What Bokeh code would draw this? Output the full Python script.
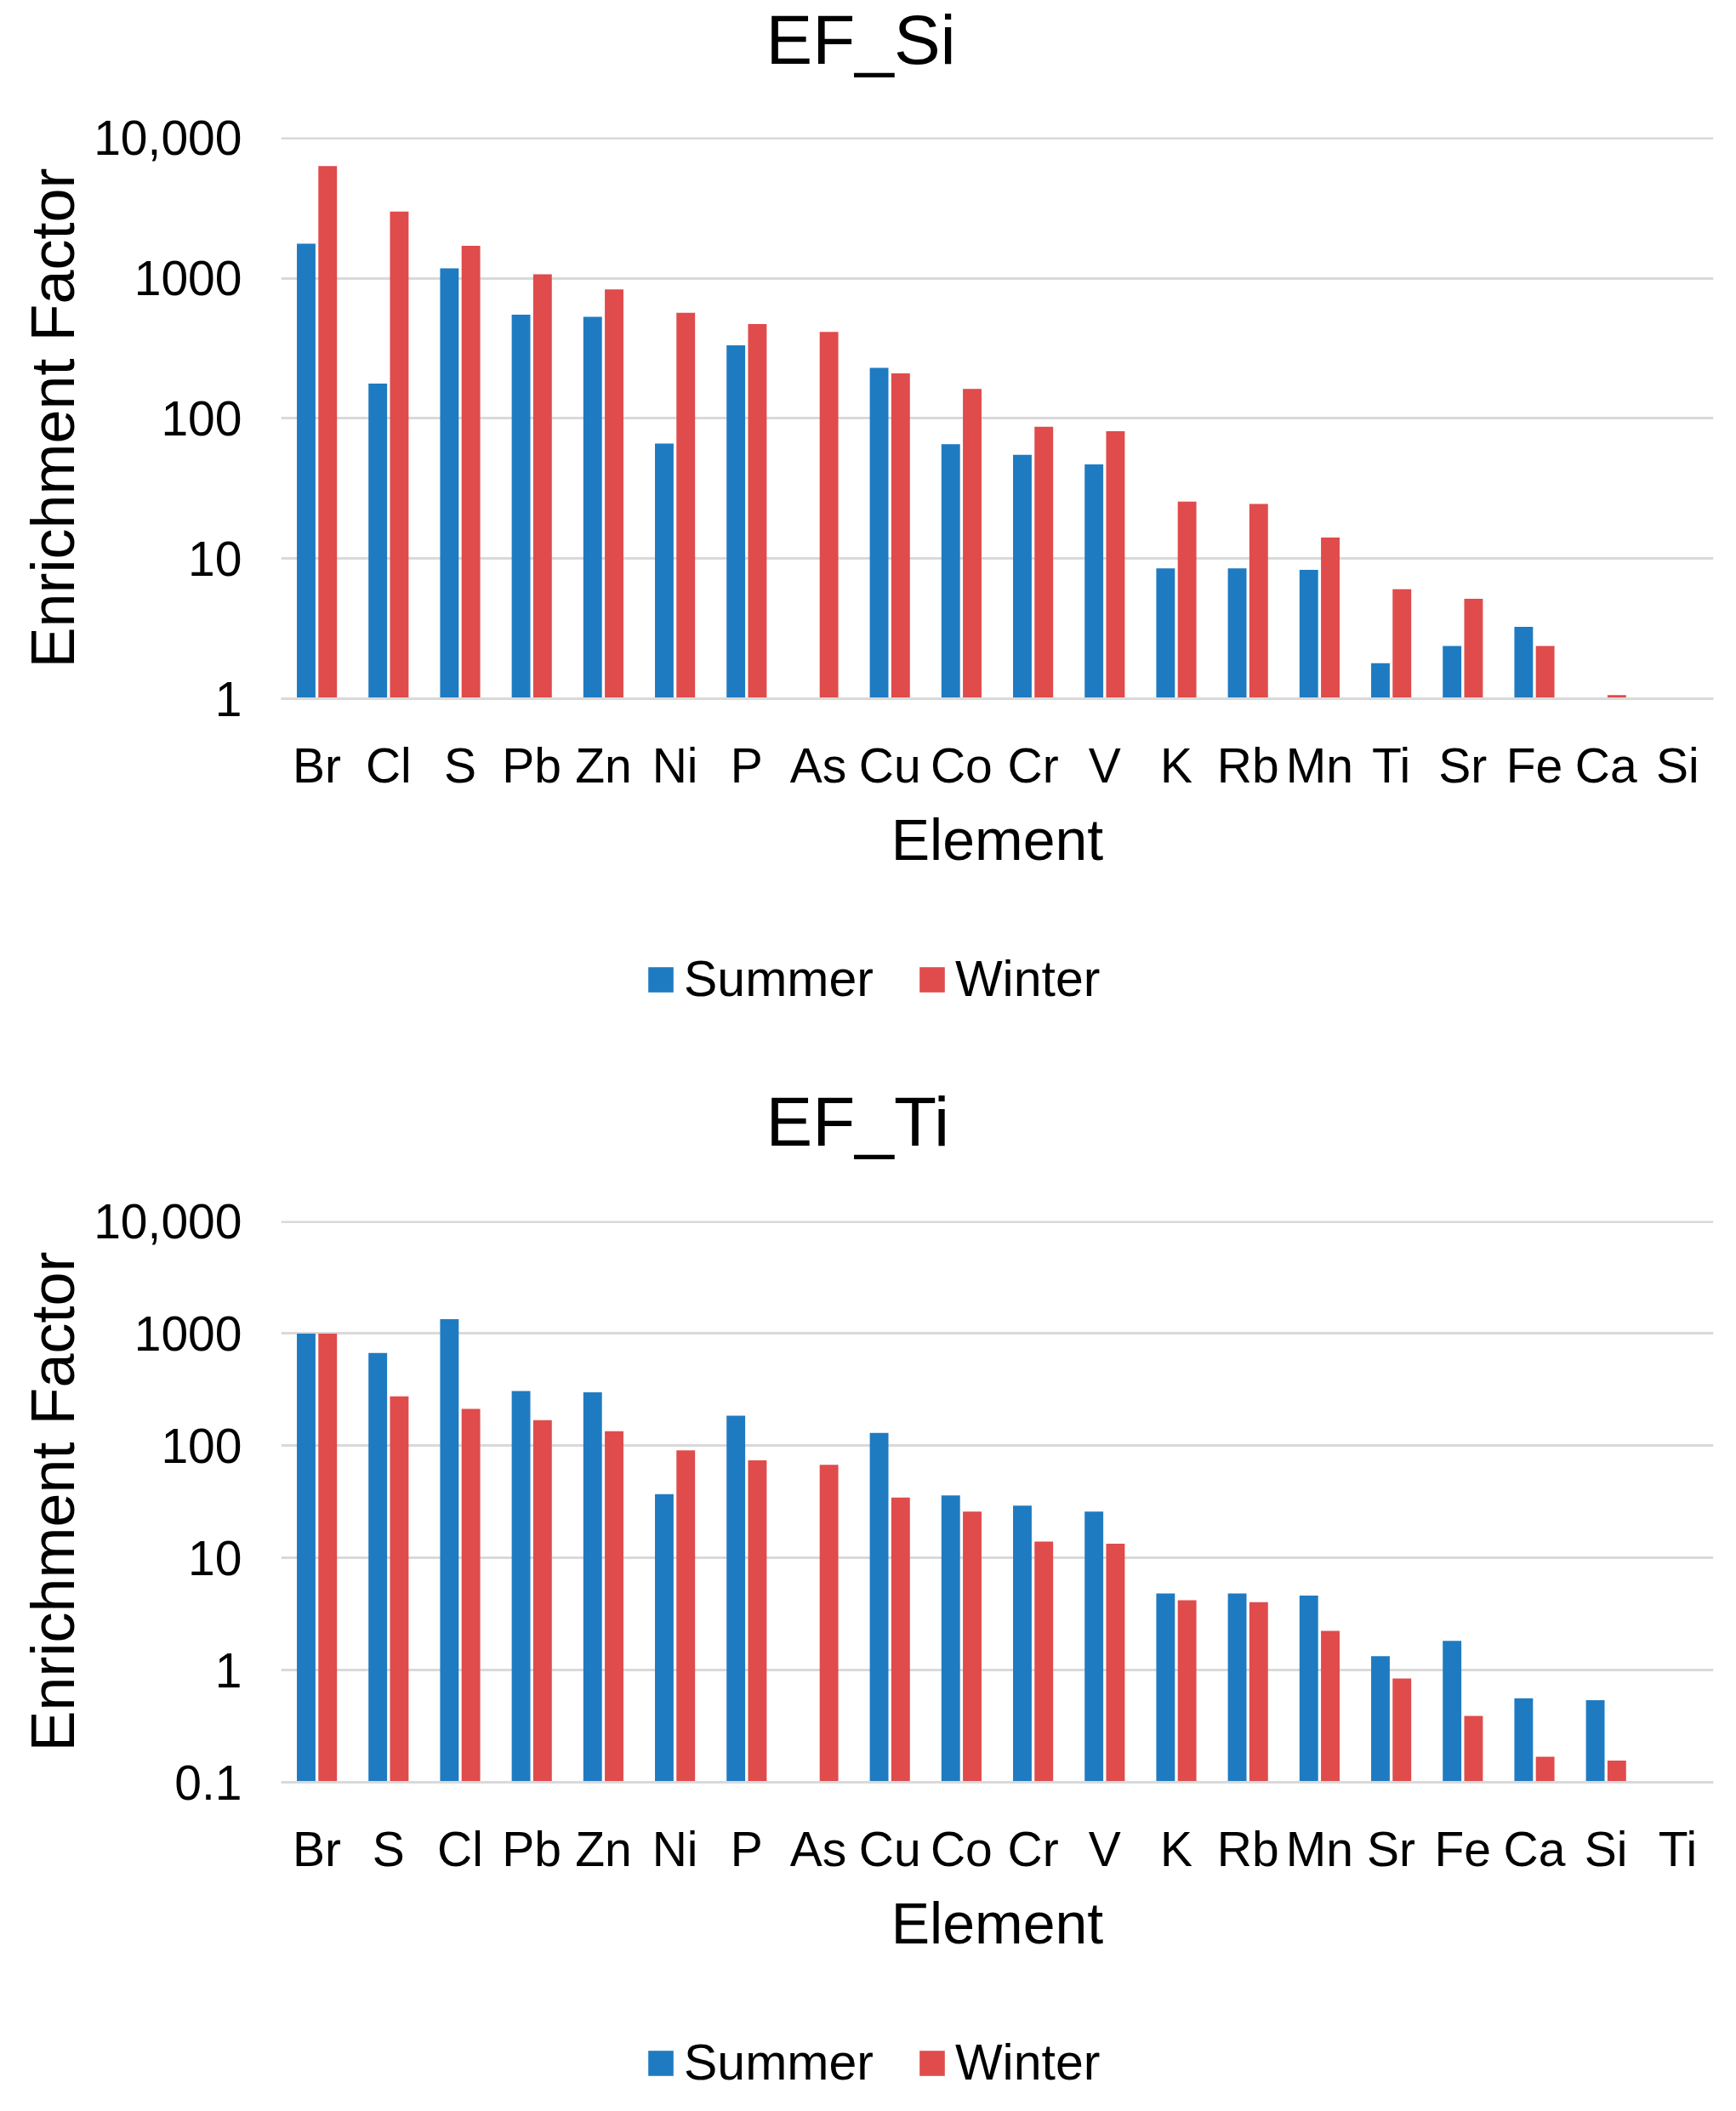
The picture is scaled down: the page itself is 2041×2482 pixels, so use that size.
import numpy as np
from bokeh.plotting import figure
from bokeh.layouts import column
from bokeh.models import (ColumnDataSource, FactorRange, Range1d, FixedTicker,
                          CustomJSTickFormatter, Legend)
from bokeh.transform import dodge
from bokeh.embed import file_html
from bokeh.resources import INLINE

nan = np.nan

# EF normalised to Si
elements_si = ["Br", "Cl", "S", "Pb", "Zn", "Ni", "P", "As", "Cu", "Co",
               "Cr", "V", "K", "Rb", "Mn", "Ti", "Sr", "Fe", "Ca", "Si"]
summer_si = [1760, 177, 1175, 548, 530, 66, 332, nan, 229, 65.5,
             55, 47, 8.5, 8.5, 8.3, 1.79, 2.38, 3.26, nan, nan]
winter_si = [6300, 2990, 1700, 1065, 830, 566, 470, 414, 209, 162,
             87, 81, 25.5, 24.5, 14.1, 6.05, 5.17, 2.38, 1.06, nan]

# EF normalised to Ti
elements_ti = ["Br", "S", "Cl", "Pb", "Zn", "Ni", "P", "As", "Cu", "Co",
               "Cr", "V", "K", "Rb", "Mn", "Sr", "Fe", "Ca", "Si", "Ti"]
summer_ti = [1000, 671, 1345, 308, 299, 37, 185, nan, 130, 36,
             29.3, 25.9, 4.82, 4.82, 4.62, 1.33, 1.82, 0.56, 0.54, nan]
winter_ti = [1000, 276, 213, 169, 135, 91, 74, 67.5, 34.5, 25.9,
             14, 13.4, 4.2, 4.03, 2.24, 0.84, 0.39, 0.169, 0.156, nan]

ticks_si = [1, 10, 100, 1000, 10000]
ticks_ti = [0.1, 1, 10, 100, 1000, 10000]

FONT = "Liberation Sans"
BLUE = "#1F7BC1"
RED = "#E04B4B"
GRID = "#D9D9D9"


def blank(height, **kw):
    p = figure(width=2025, height=height, min_border=0,
               x_axis_location=None, y_axis_location=None,
               output_backend="svg", toolbar_location=None, tools="", **kw)
    p.outline_line_color = None
    p.grid.visible = False
    return p


def add_bars(p, src, base):
    r1 = p.vbar(x=dodge("element", -0.15, range=p.x_range), top="summer",
                bottom=base, width=0.26, source=src,
                fill_color=BLUE, line_color=None)
    r2 = p.vbar(x=dodge("element", 0.15, range=p.x_range), top="winter",
                bottom=base, width=0.26, source=src,
                fill_color=RED, line_color=None)
    return r1, r2


def make_title(text):
    p = blank(110)
    p.title.text = text
    p.title.align = "left"
    p.title.offset = 570
    p.title.standoff = 0
    p.title.vertical_align = "top"
    p.title.text_font = FONT
    p.title.text_font_size = "82px"
    p.title.text_font_style = "normal"
    p.title.text_color = "black"
    return p


def make_chart(elements, summer, winter, ticks, top):
    src = ColumnDataSource(dict(element=elements,
                                summer=np.array(summer, dtype=float),
                                winter=np.array(winter, dtype=float)))
    p = figure(x_range=FactorRange(factors=elements),
               y_range=Range1d(ticks[0], ticks[-1] * 1.01),
               y_axis_type="log", frame_width=1684, frame_height=660,
               min_border_left=330, min_border_right=11,
               min_border_top=top, min_border_bottom=230,
               output_backend="svg", toolbar_location=None, tools="")
    add_bars(p, src, ticks[0])

    p.outline_line_color = None
    p.xgrid.visible = False
    p.ygrid.grid_line_color = GRID
    p.ygrid.grid_line_width = 3

    p.yaxis.ticker = FixedTicker(ticks=ticks, minor_ticks=[])
    p.yaxis.formatter = CustomJSTickFormatter(code="""
        if (tick >= 10000) { return tick.toLocaleString('en-US'); }
        return tick.toString();
    """)
    p.yaxis.axis_label = "Enrichment Factor"
    p.yaxis.axis_line_color = None
    p.xaxis.axis_label = "Element"
    p.xaxis.axis_line_color = GRID
    p.xaxis.axis_line_width = 3

    for ax in (p.xaxis, p.yaxis):
        ax.major_tick_line_color = None
        ax.minor_tick_line_color = None
        ax.major_label_text_font = FONT
        ax.major_label_text_font_size = "57px"
        ax.major_label_text_color = "black"
        ax.axis_label_text_font = FONT
        ax.axis_label_text_font_style = "normal"
        ax.axis_label_text_color = "black"
    p.yaxis.axis_label_text_font_size = "72px"
    p.xaxis.axis_label_text_font_size = "68px"
    p.yaxis.major_label_standoff = 40
    p.yaxis.axis_label_standoff = 5
    p.xaxis.major_label_standoff = 40
    p.xaxis.axis_label_standoff = 14
    return p, src


def make_legend(elements, src, base, height, y):
    # legend strip under a chart; its bar renderers are hidden
    p = blank(height, x_range=FactorRange(factors=elements),
              y_range=Range1d(0, 1))
    r1, r2 = add_bars(p, src, base)
    r1.visible = False
    r2.visible = False
    legend = Legend(items=[("Summer", [r1]), ("Winter", [r2])],
                    orientation="horizontal", location=(428, y),
                    margin=0, padding=0, spacing=50, label_standoff=9,
                    glyph_width=37, glyph_height=37,
                    label_text_font=FONT, label_text_font_size="59px",
                    label_text_color="black", inactive_fill_alpha=0,
                    border_line_color=None, background_fill_alpha=0)
    p.add_layout(legend, "center")
    return p


t1 = make_title("EF_Si")
p1, src1 = make_chart(elements_si, summer_si, winter_si, ticks_si, 51)
l1 = make_legend(elements_si, src1, ticks_si[0], 221, 87)
t2 = make_title("EF_Ti")
p2, src2 = make_chart(elements_ti, summer_ti, winter_ti, ticks_ti, 53)
l2 = make_legend(elements_ti, src2, ticks_ti[0], 141, 7)

page = column(t1, p1, l1, t2, p2, l2, spacing=0)
open("out.html", "w").write(file_html(page, INLINE))
